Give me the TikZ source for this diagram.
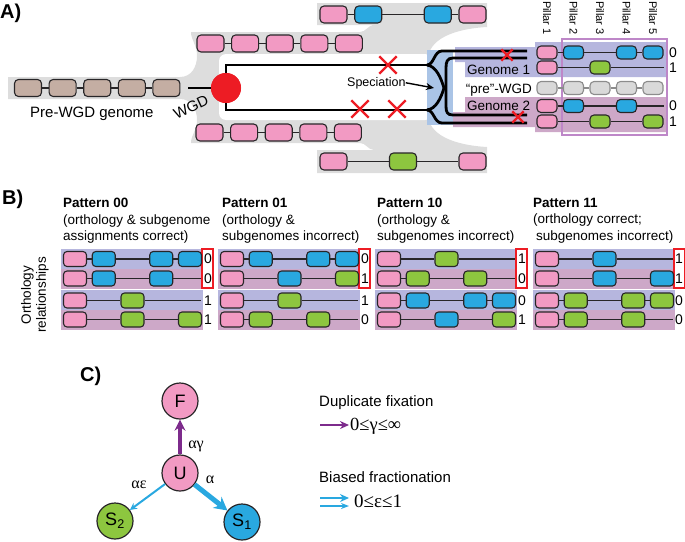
\documentclass[tikz,border=0pt]{standalone}
\usepackage{fontspec}
\setmainfont{Liberation Sans}
\newfontfamily\greekfont{Liberation Serif}
\usetikzlibrary{shapes.misc, arrows.meta, positioning}

\definecolor{genePink}{RGB}{242,154,195}
\definecolor{geneBlue}{RGB}{41,168,224}
\definecolor{geneGreen}{RGB}{141,198,63}
\definecolor{geneBrown}{RGB}{196,174,163}
\definecolor{geneGrey}{RGB}{217,217,217}
\definecolor{preLine}{RGB}{140,140,140}
\definecolor{blobGrey}{RGB}{221,221,221}
\definecolor{subOne}{RGB}{182,182,222}
\definecolor{subTwo}{RGB}{205,168,200}
\definecolor{specBlue}{RGB}{170,196,230}
\definecolor{boxPurple}{RGB}{190,135,200}
\definecolor{lossRed}{RGB}{237,28,36}
\definecolor{fixPurple}{RGB}{125,43,140}
\definecolor{outline}{RGB}{40,38,40}

% one row of genes: name, x of pillar 1, pitch, y, end of line, pillar/colour list
\newcommand{\generow}[6]{%
  \coordinate (#1-end) at (#5,#4);
  \foreach \p/\c [remember=\p as \q (initially 0)] in {#6} {
    \node[gene=\c] (#1-\p) at ({#2+(\p-1)*#3},#4) {};
    \ifnum\q>0 \draw[link] (#1-\q) -- (#1-\p);\fi
    \xdef\lastgene{\p}
  }
  \ifnum\lastgene<5 \draw[link] (#1-\lastgene) -- (#1-end);\fi
}

\begin{document}
\begin{tikzpicture}[x=1pt, y=-1pt,
    gene/.style={draw=outline, fill=#1, line width=1.1pt, rounded corners=3.5pt,
      minimum width=23pt, minimum height=15pt, inner sep=0pt},
    link/.style={draw=outline, line width=1.1pt},
    fork/.style={line width=2.8pt},
    loss/.style={cross out, draw=lossRed, line width=2.4pt, minimum size=#1, inner sep=0pt},
    digit/.style={font=\fontsize{14}{14}\selectfont, inner sep=0pt},
    label/.style={anchor=base west, inner sep=0pt, font=\fontsize{#1}{#1}\selectfont},
    title/.style={anchor=north west, align=left, inner sep=0pt,
      font=\fontsize{13.5}{16.5}\selectfont},
    panel/.style={anchor=base west, inner sep=0pt, font=\fontsize{20}{20}\selectfont\bfseries},
    pillar/.style={rotate=-90, anchor=west, inner sep=0pt, font=\fontsize{11}{11}\selectfont},
    state/.style={circle, draw=outline, fill=#1, line width=1.2pt, minimum size=36pt,
      inner sep=0pt, font=\fontsize{18}{18}\selectfont},
    greek/.style={inner sep=0pt, font={\fontsize{#1}{#1}\greekfont}},
    fixarrow/.style={draw=fixPurple, line width=#1},
    fracarrow/.style={draw=geneBlue, line width=#1}]
  \useasboundingbox (0,0) rectangle (685,541);

  % Panel A: grey background of the duplicated genome
  \fill[blobGrey] (8,77) -- (180,77) .. controls (192,77) and (197,66) .. (197,56)
    .. controls (197,45) and (191,40) .. (191,32) -- (360,32)
    .. controls (366,32) and (368,25) .. (374,25) -- (317,25) -- (317,3) -- (487,3)
    -- (487,27) .. controls (452,29) and (428,40) .. (428,60) -- (428,114)
    .. controls (428,134) and (452,145) .. (487,147) -- (487,173) -- (317,173)
    -- (317,150) -- (374,150) .. controls (368,150) and (366,143) .. (360,143)
    -- (191,143) .. controls (191,135) and (197,130) .. (197,120)
    .. controls (197,110) and (192,99) .. (180,99) -- (8,99) -- cycle;
  \fill[white, rounded corners=7pt] (219,54) rectangle (432,120);

  % Speciation and subgenome bands
  \fill[specBlue] (427,50) rectangle (453,125);
  \fill[subOne] (455,47) -- (535,47) -- (535,42) -- (667,42) -- (667,77) -- (465,77)
    -- (465,62) -- (455,62) -- cycle;
  \fill[subTwo] (465,97) -- (667,97) -- (667,132) -- (535,132) -- (535,127) -- (453,127)
    -- (453,112) -- (465,112) -- cycle;
  \draw[boxPurple, line width=1.5pt] (562,39) rectangle (667,135);

  % Gene trees
  \node[circle, fill=lossRed, minimum size=30pt, inner sep=0pt] (wgd) at (226,88) {};
  \draw[fork] (427,65) -- (226,65) -- (226,110) -- (427,110);
  \draw[fork] (427,65) .. controls (434,65) and (434,51) .. (442,51) -- (527,51);
  \draw[fork] (427,65) .. controls (436,66) and (441,78) .. (444,88);
  \draw[fork] (427,110) .. controls (436,109) and (441,98) .. (444,88);
  \draw[fork] (427,110) .. controls (434,110) and (434,123) .. (442,123) -- (527,123);
  \draw[fork] (527,58) -- (453,58) .. controls (447,58) and (446,62) .. (446,68)
    -- (446,106) .. controls (446,112) and (447,115) .. (453,115) -- (527,115);
  \node[circle, fill=lossRed, minimum size=30pt, inner sep=0pt] at (wgd) {};

  % Genomes before and after the WGD
  \begin{scope}[gene/.append style={minimum width=27pt, minimum height=17pt, rounded corners=4pt}]
    \generow{pre}{28}{34.6}{88}{0}{1/geneBrown,2/geneBrown,3/geneBrown,4/geneBrown,5/geneBrown}
    \generow{up}{210.5}{34.6}{43.5}{0}{1/genePink,2/genePink,3/genePink,4/genePink,5/genePink}
    \generow{dn}{209.5}{34.6}{132.5}{0}{1/genePink,2/genePink,3/genePink,4/genePink,5/genePink}
    \generow{top}{333.5}{34.75}{14.5}{0}{1/genePink,2/geneBlue,4/geneBlue,5/genePink}
    \generow{bot}{333.5}{34.75}{161.5}{0}{1/genePink,3/geneGreen,5/genePink}
  \end{scope}
  \draw[fork, shorten <=8pt] (pre-5) -- (wgd);

  % Pillars
  \begin{scope}[gene/.append style={minimum width=20pt, minimum height=13pt, rounded corners=4pt}]
    \generow{g1a}{547}{26.5}{52.5}{664}{1/genePink,2/geneBlue,4/geneBlue,5/geneBlue}
    \generow{g1b}{547}{26.5}{67.5}{664}{1/genePink,3/geneGreen}
    \begin{scope}[gene/.append style={draw=preLine}, link/.append style={draw=preLine}]
      \generow{anc}{547}{26.5}{88}{664}{1/geneGrey,2/geneGrey,3/geneGrey,4/geneGrey,5/geneGrey}
    \end{scope}
    \generow{g2a}{547}{26.5}{106}{664}{1/genePink,2/geneBlue,4/geneBlue}
    \generow{g2b}{547}{26.5}{121.5}{664}{1/genePink,3/geneGreen,5/geneGreen}
  \end{scope}
  \foreach \y/\t [count=\i] in {52.5/0,67.5/1,106/0,121.5/1}
    \node[digit, anchor=west] (sg\i) at (669,\y) {\t};
  \foreach \i in {1,...,5}
    \node[pillar] (pil\i) at ({547+(\i-1)*26.5},1) {Pillar \i};

  % Gene losses
  \node[loss=15pt] (lossA) at (388,65) {};
  \node[loss=15pt] (lossB) at (360,109) {};
  \node[loss=15pt] (lossC) at (397,109) {};
  \node[loss=9pt] (lossD) at (507,55) {};
  \node[loss=9pt] (lossE) at (518,117) {};

  % Labels of panel A
  \node[panel] (pa) at (0,18) {A)};
  \node[label=15] (pretext) at (30,117) {Pre-WGD genome};
  \node[rotate=25, inner sep=0pt, font=\fontsize{15}{15}\selectfont] (wgdtext) at (191,107) {WGD};
  \node[label=12.5] (spec) at (347,86) {Speciation};
  \coordinate (specTip) at (434,88);
  \draw[line width=1.4pt, -{Stealth[length=8pt,width=7pt]}] (spec.east) -- (specTip);
  \node[label=13.5] (gen1) at (467,74) {Genome 1};
  \node[label=13.5, anchor=base east] (ancText) at (532,93) {“pre”-WGD};
  \node[label=13.5] (gen2) at (467,110) {Genome 2};

  % Panel B: bands and boxes
  \node[panel] (pb) at (2,204) {B)};
  \foreach \L in {61,218,375,533} {
    \fill[subOne] (\L,249) rectangle ++(142,20);
    \fill[subTwo] (\L,269) rectangle ++(142,20);
    \fill[subOne] (\L,290) rectangle ++(142,20);
    \fill[subTwo] (\L,310) rectangle ++(142,20);
    \draw[lossRed, line width=1.5pt] (\L+141,249) rectangle ++(11,39);
  }
  \node[title] (t00) at (63,198) {\textbf{Pattern 00}\\(orthology \& subgenome\\assignments correct)};
  \node[title] (t01) at (222,198) {\textbf{Pattern 01}\\(orthology \&\\subgenomes incorrect)};
  \node[title] (t10) at (377,198) {\textbf{Pattern 10}\\(orthology \&\\subgenomes incorrect)};
  \node[title] (t11) at (533,198) {\textbf{Pattern 11}\\(orthology correct;\\\hspace{3pt}subgenomes incorrect)};
  \node[rotate=90, align=center, inner sep=0pt, font=\fontsize{13.5}{15}\selectfont] (orth)
    at (35,295) {Orthology\\relationships};

  % Pattern 00
  \generow{pA1}{75}{28.75}{259}{201}{1/genePink,2/geneBlue,4/geneBlue,5/geneBlue}
  \generow{pA2}{75}{28.75}{278.5}{201}{1/genePink,2/geneBlue,4/geneBlue}
  \generow{pA3}{75}{28.75}{300.5}{201}{1/genePink,3/geneGreen}
  \generow{pA4}{75}{28.75}{319.5}{201}{1/genePink,3/geneGreen,5/geneGreen}
  % Pattern 01
  \generow{pB1}{232}{28.75}{259}{358}{1/genePink,2/geneBlue,4/geneBlue,5/geneBlue}
  \generow{pB2}{232}{28.75}{278.5}{358}{1/genePink,3/geneBlue,5/geneGreen}
  \generow{pB3}{232}{28.75}{300.5}{358}{1/genePink,3/geneGreen}
  \generow{pB4}{232}{28.75}{319.5}{358}{1/genePink,2/geneGreen,4/geneGreen}
  % Pattern 10
  \generow{pC1}{389}{28.75}{259}{515}{1/genePink,3/geneGreen}
  \generow{pC2}{389}{28.75}{278.5}{515}{1/genePink,2/geneGreen,4/geneGreen}
  \generow{pC3}{389}{28.75}{300.5}{515}{1/genePink,2/geneBlue,4/geneBlue,5/geneBlue}
  \generow{pC4}{389}{28.75}{319.5}{515}{1/genePink,3/geneBlue,5/geneGreen}
  % Pattern 11
  \generow{pD1}{547}{28.75}{259}{673}{1/genePink,3/geneBlue}
  \generow{pD2}{547}{28.75}{278.5}{673}{1/genePink,3/geneBlue,5/geneBlue}
  \generow{pD3}{547}{28.75}{300.5}{673}{1/genePink,2/geneGreen,4/geneGreen,5/geneGreen}
  \generow{pD4}{547}{28.75}{319.5}{673}{1/genePink,2/geneGreen,4/geneGreen}

  \foreach \x/\a/\b/\c/\d [count=\i] in {208/0/0/1/1, 365/0/1/1/0, 522/1/0/0/1, 679/1/1/0/0} {
    \node[digit] (lab\i a) at (\x,259) {\a};
    \node[digit] (lab\i b) at (\x,278.5) {\b};
    \node[digit] (lab\i c) at (\x,300.5) {\c};
    \node[digit] (lab\i d) at (\x,319.5) {\d};
  }

  % Panel C: states and rates
  \node[panel] (pc) at (80,381) {C)};
  \node[state=genePink] (F) at (180,401) {F};
  \node[state=genePink] (U) at (180,473) {U};
  \node[state=geneGreen] (S2) at (115,521) {S\textsubscript{2}};
  \node[state=geneBlue] (S1) at (242,522) {S\textsubscript{1}};
  \draw[fixarrow=4pt, -{Stealth[length=11pt,width=11pt]}] (U) -- (F);
  \draw[fracarrow=5pt, -{Stealth[length=13pt,width=14pt]}] (U) -- (S1);
  \draw[fracarrow=2pt, -{Stealth[length=7pt,width=7pt]}] (U) -- (S2);
  \node[greek=16] (rg) at (196,446) {αγ};
  \node[greek=16] (ra) at (210,480) {α};
  \node[greek=16] (re) at (139,485) {αε};

  % Legend
  \node[label=15] (dup) at (319,406) {Duplicate fixation};
  \node[greek=18.5, anchor=base west] (gam) at (350,430) {0≤γ≤∞};
  \coordinate (dupA) at (320,425);
  \draw[fixarrow=2.5pt, -{Stealth[length=9pt,width=8pt]}, shorten >=1pt] (dupA) -- (dupA -| gam.west);
  \node[label=15] (bias) at (319,482) {Biased fractionation};
  \node[greek=19, anchor=base west] (eps) at (354,507) {0≤ε≤1};
  \coordinate (fracA) at (320,498);
  \coordinate (fracB) at (320,506);
  \draw[fracarrow=2.5pt, -{Stealth[length=9pt,width=8pt]}, shorten >=5pt] (fracA) -- (fracA -| eps.west);
  \draw[fracarrow=1.6pt, -{Stealth[length=8pt,width=6pt]}, shorten >=5pt] (fracB) -- (fracB -| eps.west);
\end{tikzpicture}
\end{document}
